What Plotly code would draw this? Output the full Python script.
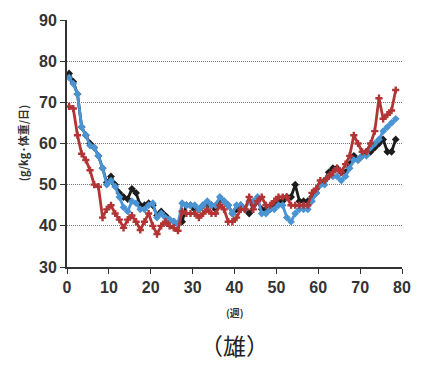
import plotly.graph_objects as go

# weekly readings, plotted at mid-week positions
weeks = [0.5 + i for i in range(79)]

black = [77, 75, 72, 64, 62, 60, 59, 57, 54, 50.5, 52, 50, 48, 47, 46.5, 49, 48, 45, 45, 45.5,
         45, 42.5, 43.5, 42.5, 41.5, 41, 40.5, 41,
         45, 45, 44, 44, 45, 45, 45, 44, 46, 46, 45, 43, 44,
         45, 44, 43, 45, 46, 44, 44, 44, 45, 46, 46, 47, 47, 50, 46, 46, 46, 47, 48, 50,
         51, 53, 54, 54, 53, 53, 55, 57, 56, 57, 58, 58, 59, 60, 61, 58, 58, 61]

blue = [76, 74.5, 72, 64, 62, 59.5, 59, 57, 54, 50, 51, 49.5, 47, 44.5, 43.5, 46, 45.5, 44, 44, 45,
        45.5, 42, 43, 42, 41.5, 41, 40.5, 45.5,
        45, 45, 45, 44, 45, 46, 45, 45, 47, 46, 45, 43, 45,
        45, 44, 46, 46, 47, 43, 43, 44, 44, 45, 45, 42, 41, 43, 44, 44, 44, 46, 48, 50,
        50, 52, 52, 52, 51, 52, 54, 56, 56, 57, 57, 59, 60, 61, 63, 64, 65, 66]

red = [69, 68.5, 62, 57.5, 56, 53.5, 50, 49.5, 42, 44, 45, 43, 41.5, 39.5, 41.5, 42.5, 41, 39, 41, 43,
       40, 38, 40, 41, 40, 39.5, 38.8, 43.5,
       43, 43, 43, 42, 43, 44, 43, 43, 45, 44, 41, 41, 42,
       44, 44, 47, 44, 46, 47, 45, 45, 46, 47, 47, 47, 45, 45, 45, 45, 45, 48, 49, 51,
       51, 52, 53, 54, 53, 55, 57, 62, 60, 58, 58, 60, 63, 71, 66, 67, 68, 73]

x_ticks = [0, 10, 20, 30, 40, 50, 60, 70, 80]
y_ticks = [30, 40, 50, 60, 70, 80, 90]

series = [
    (black, "#1c1c1c", "diamond", 6),
    (blue, "#4b94d4", "diamond", 6),
    (red, "#b23434", "cross", 6),
]

fig = go.Figure()
for ys, color, sym, msize in series:
    fig.add_trace(go.Scatter(
        x=weeks, y=ys, mode="lines+markers",
        line=dict(color=color, width=2.8),
        marker=dict(symbol=sym, size=msize, color=color),
        showlegend=False,
    ))

tick_font = dict(family="Liberation Sans, Arial, sans-serif", size=16,
                 color="#333333", weight="bold")

fig.update_layout(
    width=423, height=366,
    margin=dict(l=67, r=14, t=17, b=99),
    paper_bgcolor="white", plot_bgcolor="white",
    xaxis=dict(
        range=[0, 80], tickvals=x_ticks, ticks="outside", ticklen=5,
        tickcolor="#333333", showline=True, linecolor="#333333", linewidth=1.8,
        showgrid=False, zeroline=False, tickfont=tick_font,
    ),
    yaxis=dict(
        range=[30, 90], tickvals=y_ticks, ticks="outside", ticklen=5,
        tickcolor="#333333", showline=True, linecolor="#333333", linewidth=1.8,
        showgrid=True, gridcolor="#777777", griddash="1px,1px", gridwidth=1,
        zeroline=False, tickfont=tick_font,
    ),
    annotations=[
        dict(text="(週)", x=0.5, y=-0.185, xref="paper", yref="paper",
             showarrow=False, xanchor="center", yanchor="middle",
             font=dict(family="Noto Sans CJK JP", size=10, color="#333333", weight="bold")),
        dict(text="（雄）", x=0.5, y=-0.315, xref="paper", yref="paper",
             showarrow=False, xanchor="center", yanchor="middle",
             font=dict(family="Noto Sans CJK JP", size=23, color="#222222")),
        dict(text="(g/kg·体重/日)", x=-0.132, y=0.5, xref="paper", yref="paper",
             showarrow=False, textangle=-90, xanchor="center", yanchor="middle",
             font=dict(family="Noto Sans CJK JP", size=11, color="#333333", weight="bold")),
    ],
)

fig.write_html("out.html")
